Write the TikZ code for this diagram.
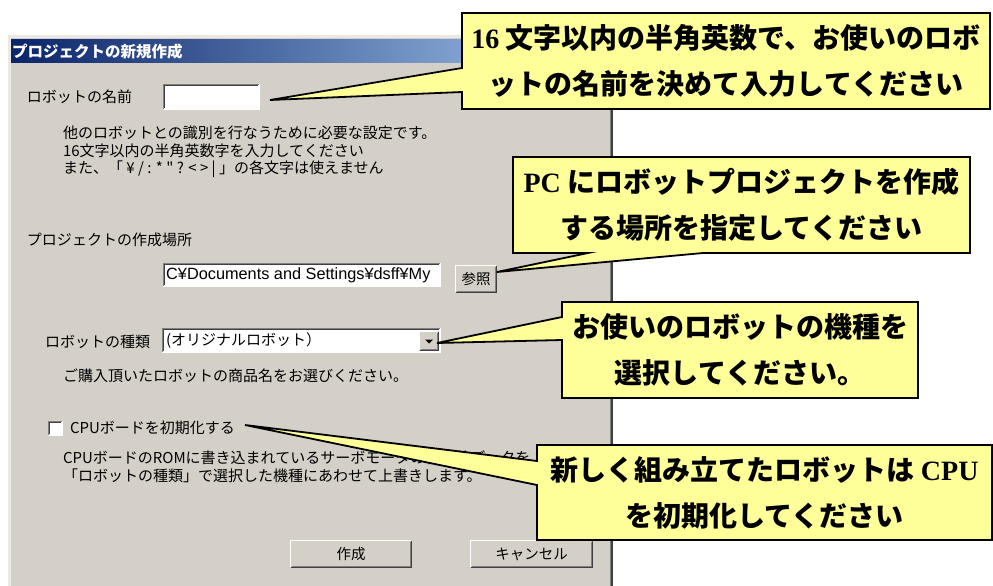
\documentclass[tikz,border=0pt]{standalone}
\usepackage{fontspec}
\setmainfont{Liberation Serif}
\setsansfont{Liberation Sans}
\newfontfamily\jp{Noto Sans CJK JP}
\usetikzlibrary{calc}
\definecolor{dlg}{HTML}{D4D0C8}
\definecolor{cyel}{HTML}{FFFF99}
\definecolor{ttla}{HTML}{0A246A}
\definecolor{ttlb}{HTML}{A6CAF0}
\definecolor{edgeD}{HTML}{808080}
\definecolor{edgeK}{HTML}{404040}
\definecolor{frameL}{HTML}{ECE9E4}
\newcommand\sunkedge[1]{%
  \draw[edgeD,line width=1.2pt] ([shift={(0.6pt,0.6pt)}]#1.south west) |- ([shift={(-0.6pt,-0.6pt)}]#1.north east);
  \draw[edgeK,line width=1pt] ([shift={(1.7pt,1.7pt)}]#1.south west) |- ([shift={(-1.7pt,-1.7pt)}]#1.north east);
  \draw[white,line width=1.2pt] ([shift={(0.6pt,0.6pt)}]#1.south west) -| ([shift={(-0.6pt,-0.6pt)}]#1.north east);
}
\newcommand\raisedge[1]{%
  \draw[white,line width=1.2pt] ([shift={(0.6pt,0.6pt)}]#1.south west) |- ([shift={(-0.6pt,-0.6pt)}]#1.north east);
  \draw[edgeK,line width=1.2pt] ([shift={(0.6pt,0.6pt)}]#1.south west) -| ([shift={(-0.6pt,-0.6pt)}]#1.north east);
  \draw[edgeD,line width=1.2pt] ([shift={(1.8pt,1.8pt)}]#1.south west) -| ([shift={(-1.8pt,-1.8pt)}]#1.north east);
}
\begin{document}
\begin{tikzpicture}[x=1pt,y=-1pt,
  lbl/.style={anchor=west,inner sep=0,outer sep=0,font=\jp\fontsize{15}{17.5}\selectfont,text=black},
  calltext/.style={align=center,inner sep=0,font=\jp\bfseries\fontsize{28}{46}\selectfont},
  callout/.style={fill=cyel,draw=black,line width=1.8pt,line join=miter},
  hole/.style={fill=white,inner sep=0,outer sep=0,anchor=north west},
  btn/.style={fill=dlg,inner sep=0,outer sep=0,anchor=north west,font=\jp\fontsize{14.5}{15}\selectfont}]
\useasboundingbox (0,0) rectangle (993,586);
\fill[white] (0,0) rectangle (993,586);
% dialog window
\fill[frameL] (8,35) rectangle (613,586);
\fill[dlg] (11,38) rectangle (610,586);
\draw[edgeD,line width=1pt] (610.5,38) -- (610.5,586);
\draw[edgeK,line width=1.5pt] (612.2,35) -- (612.2,586);
\shade[left color=ttla,right color=ttlb] (11,40) rectangle (610,63);
\node[anchor=west,inner sep=0,text=white,font=\jp\bfseries\fontsize{15.5}{16}\selectfont] (title) at (12,51.5) {プロジェクトの新規作成};
% robot name
\node[lbl] (namelbl) at (27,97) {ロボットの名前};
\node[hole,minimum width=97pt,minimum height=26pt] (namebox) at (163,84) {};
\sunkedge{namebox}
\node[lbl,align=left] (desc1) at (63,152) {他のロボットとの識別を行なうために必要な設定です。\\16文字以内の半角英数字を入力してください\\また、「 ¥ / : * " ? < > | 」の各文字は使えません};
% project location
\node[lbl] (loclbl) at (27,240) {プロジェクトの作成場所};
\node[hole,minimum width=278pt,minimum height=24pt] (pathbox) at (163,263) {};
\sunkedge{pathbox}
\node[anchor=west,inner sep=0,font=\sffamily\fontsize{16.3}{17}\selectfont] (pathtxt) at (166,275.5) {C¥Documents and Settings¥dsff¥My};
\node[btn,minimum width=42pt,minimum height=28pt] (browse) at (455,265) {参照};
\raisedge{browse}
% robot type
\node[lbl] (typelbl) at (45,342) {ロボットの種類};
\node[hole,minimum width=279pt,minimum height=25pt] (combo) at (162,328) {};
\sunkedge{combo}
\node[lbl] (combotxt) at (166,341) {(オリジナルロボット）};
\node[btn,minimum width=20pt,minimum height=20pt] (drop) at (419,331) {};
\raisedge{drop}
\fill ([shift={(-4pt,1.5pt)}]drop.center) -- ([shift={(4pt,1.5pt)}]drop.center) -- ([shift={(0pt,-2.5pt)}]drop.center) -- cycle;
\node[lbl] (desc2) at (63,376) {ご購入頂いたロボットの商品名をお選びください。};
% CPU init
\node[hole,minimum width=15pt,minimum height=15pt] (chk) at (48,421) {};
\sunkedge{chk}
\node[lbl] (chklbl) at (70,428) {CPUボードを初期化する};
\node[lbl,align=left] (desc3) at (63,467) {CPUボードのROMに書き込まれているサーボモータの初期値データを\\「ロボットの種類」で選択した機種にあわせて上書きします。};
% buttons
\node[btn,minimum width=122pt,minimum height=28pt] (okbtn) at (290,540) {作成};
\raisedge{okbtn}
\node[btn,minimum width=123pt,minimum height=28pt] (cancel) at (470,540) {キャンセル};
\raisedge{cancel}
% callout 1
\coordinate (c1nw) at (462,13);
\coordinate (c1se) at (990,109);
\coordinate (c1a) at (462,68);
\coordinate (c1b) at (462,92);
\coordinate (t1) at (270,100);
\filldraw[callout] (c1nw) -| (c1se) -| (c1b) -- (t1) -- (c1a) -- cycle;
\node[calltext] (c1t) at ($(c1nw)!0.5!(c1se)$) {{\rmfamily\bfseries 16} 文字以内の半角英数で、お使いのロボ\\ットの名前を決めて入力してください};
% callout 2
\coordinate (c2nw) at (513,157);
\coordinate (c2se) at (970,253);
\coordinate (c2a) at (588,253);
\coordinate (c2b) at (703,253);
\coordinate (t2) at (497,272);
\filldraw[callout] (c2nw) -| (c2se) -- (c2b) -- (t2) -- (c2a) -| cycle;
\node[calltext] (c2t) at ($(c2nw)!0.5!(c2se)$) {{\rmfamily\bfseries PC} にロボットプロジェクトを作成\\する場所を指定してください};
% callout 3
\coordinate (c3nw) at (562,302);
\coordinate (c3se) at (918,398);
\coordinate (c3a) at (562,317);
\coordinate (c3b) at (562,340);
\coordinate (t3) at (437,343);
\filldraw[callout] (c3nw) -| (c3se) -| (c3b) -- (t3) -- (c3a) -- cycle;
\node[calltext] (c3t) at ($(c3nw)!0.5!(c3se)$) {お使いのロボットの機種を\\選択してください。};
% callout 4
\coordinate (c4nw) at (537,445);
\coordinate (c4se) at (992,540);
\coordinate (c4a) at (537,461);
\coordinate (c4b) at (537,485);
\coordinate (t4) at (245,425);
\filldraw[callout] (c4nw) -| (c4se) -| (c4b) -- (t4) -- (c4a) -- cycle;
\node[calltext] (c4t) at ($(c4nw)!0.5!(c4se)$) {新しく組み立てたロボットは {\rmfamily\bfseries CPU}\\を初期化してください};
\end{tikzpicture}
\end{document}
